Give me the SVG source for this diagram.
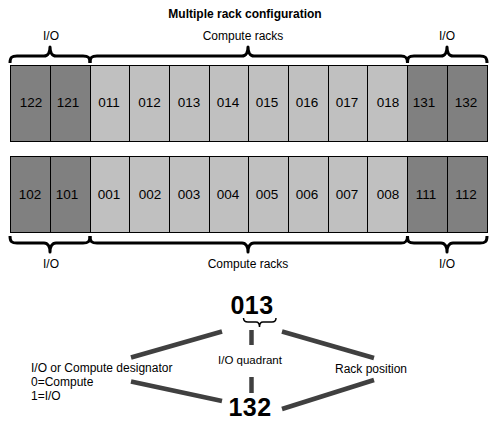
<svg xmlns="http://www.w3.org/2000/svg" width="498" height="429" viewBox="0 0 498 429">
<style>
text{font-family:"Liberation Sans",Arial,sans-serif;fill:#000}
.t{font-size:12px;text-anchor:middle}
.c{font-size:13.5px;text-anchor:middle}
.big{font-size:25px;font-weight:bold;text-anchor:middle;letter-spacing:0.5px}
.io rect{fill:#808080;stroke:#000;stroke-width:1}
.cp rect{fill:#c0c0c0;stroke:#000;stroke-width:1}
.brace{fill:none;stroke:#000;stroke-width:3;stroke-linejoin:round}
.lead{stroke:#404040;stroke-width:4.5;stroke-linecap:butt}
</style>
<rect width="498" height="429" fill="#fff"/>
<text x="245" y="18" font-size="12" font-weight="bold" text-anchor="middle">Multiple rack configuration</text>

<g id="top-labels">
<text class="t" x="51" y="40">I/O</text>
<text class="t" x="243" y="40">Compute racks</text>
<text class="t" x="447" y="40">I/O</text>
</g>
<g id="top-braces">
<path class="brace" d="M10,63 C10,57 12,56 17,56 L44,56 C48,56 50,52 50,47 C50,52 52,56 56,56 L83,56 C88,56 90,57 90,63"/>
<path class="brace" d="M90,63 C90,57 92,56 97,56 L242,56 C246,56 248,52 248,47 C248,52 250,56 254,56 L401,56 C405,56 407.5,57 407.5,63"/>
<path class="brace" d="M407.5,63 C407.5,57 409,56 414,56 L441,56 C445,56 447,52 447,47 C447,52 449,56 453,56 L480,56 C485,56 487,57 487,63"/>
</g>

<g id="rack-122" class="io"><rect x="10.5" y="65.5" width="40" height="76"/><text class="c" x="31" y="107">122</text></g>
<g id="rack-121" class="io"><rect x="50.5" y="65.5" width="40" height="76"/><text class="c" x="68" y="107">121</text></g>
<g id="rack-011" class="cp"><rect x="90.5" y="65.5" width="39" height="76"/><text class="c" x="109" y="107">011</text></g>
<g id="rack-012" class="cp"><rect x="129.5" y="65.5" width="40" height="76"/><text class="c" x="149.5" y="107">012</text></g>
<g id="rack-013" class="cp"><rect x="169.5" y="65.5" width="40" height="76"/><text class="c" x="189" y="107">013</text></g>
<g id="rack-014" class="cp"><rect x="209.5" y="65.5" width="39" height="76"/><text class="c" x="228" y="107">014</text></g>
<g id="rack-015" class="cp"><rect x="248.5" y="65.5" width="40" height="76"/><text class="c" x="267" y="107">015</text></g>
<g id="rack-016" class="cp"><rect x="288.5" y="65.5" width="40" height="76"/><text class="c" x="307" y="107">016</text></g>
<g id="rack-017" class="cp"><rect x="328.5" y="65.5" width="39" height="76"/><text class="c" x="347" y="107">017</text></g>
<g id="rack-018" class="cp"><rect x="367.5" y="65.5" width="40" height="76"/><text class="c" x="388" y="107">018</text></g>
<g id="rack-131" class="io"><rect x="407.5" y="65.5" width="40" height="76"/><text class="c" x="424" y="107">131</text></g>
<g id="rack-132" class="io"><rect x="447.5" y="65.5" width="40" height="76"/><text class="c" x="466" y="107">132</text></g>

<g id="rack-102" class="io"><rect x="10.5" y="156.5" width="40" height="76"/><text class="c" x="30" y="198.5">102</text></g>
<g id="rack-101" class="io"><rect x="50.5" y="156.5" width="40" height="76"/><text class="c" x="67" y="198.5">101</text></g>
<g id="rack-001" class="cp"><rect x="90.5" y="156.5" width="39" height="76"/><text class="c" x="109" y="198.5">001</text></g>
<g id="rack-002" class="cp"><rect x="129.5" y="156.5" width="40" height="76"/><text class="c" x="150" y="198.5">002</text></g>
<g id="rack-003" class="cp"><rect x="169.5" y="156.5" width="40" height="76"/><text class="c" x="189" y="198.5">003</text></g>
<g id="rack-004" class="cp"><rect x="209.5" y="156.5" width="39" height="76"/><text class="c" x="228" y="198.5">004</text></g>
<g id="rack-005" class="cp"><rect x="248.5" y="156.5" width="40" height="76"/><text class="c" x="267" y="198.5">005</text></g>
<g id="rack-006" class="cp"><rect x="288.5" y="156.5" width="40" height="76"/><text class="c" x="307" y="198.5">006</text></g>
<g id="rack-007" class="cp"><rect x="328.5" y="156.5" width="39" height="76"/><text class="c" x="347" y="198.5">007</text></g>
<g id="rack-008" class="cp"><rect x="367.5" y="156.5" width="40" height="76"/><text class="c" x="388" y="198.5">008</text></g>
<g id="rack-111" class="io"><rect x="407.5" y="156.5" width="40" height="76"/><text class="c" x="426" y="198.5">111</text></g>
<g id="rack-112" class="io"><rect x="447.5" y="156.5" width="40" height="76"/><text class="c" x="466" y="198.5">112</text></g>

<g id="bottom-braces">
<path class="brace" d="M10,236 C10,242 12,243 17,243 L44,243 C48,243 50,247 50,252 C50,247 52,243 56,243 L83,243 C88,243 90,242 90,236"/>
<path class="brace" d="M90,236 C90,242 92,243 97,243 L242,243 C246,243 248,247 248,252 C248,247 250,243 254,243 L401,243 C405,243 407.5,242 407.5,236"/>
<path class="brace" d="M407.5,236 C407.5,242 409,243 414,243 L441,243 C445,243 447,247 447,252 C447,247 449,243 453,243 L480,243 C485,243 487,242 487,236"/>
</g>
<g id="bottom-labels">
<text class="t" x="51" y="268">I/O</text>
<text class="t" x="248" y="268">Compute racks</text>
<text class="t" x="447" y="268">I/O</text>
</g>

<g id="example-013"><text class="big" x="252" y="314">013</text>
<path d="M243.5,318 C243.5,321 245,322 248,322 L256,322 C258,322 259.5,324 259.5,327 C259.5,324 261,322 263,322 L272,322 C275,322 276,321 276,318" fill="none" stroke="#000" stroke-width="1.5"/></g>
<g id="example-132"><text class="big" x="250" y="416">132</text></g>
<g id="label-quadrant"><text x="250" y="364" font-size="11.5" text-anchor="middle">I/O quadrant</text></g>
<g id="label-designator">
<text x="31" y="372" font-size="12">I/O or Compute designator</text>
<text x="31" y="386" font-size="12">0=Compute</text>
<text x="31" y="400" font-size="12">1=I/O</text>
</g>
<g id="label-position"><text x="335" y="373" font-size="12">Rack position</text></g>

<g id="connectors">
<line class="lead" x1="131" y1="357.5" x2="222" y2="331.5"/>
<line class="lead" x1="131" y1="381.5" x2="222" y2="401"/>
<line class="lead" x1="282" y1="331.5" x2="374" y2="358"/>
<line class="lead" x1="282" y1="409" x2="374" y2="380"/>
<line class="lead" x1="251.5" y1="330" x2="251.5" y2="345"/>
<line class="lead" x1="251.5" y1="377" x2="251.5" y2="393"/>
</g>
</svg>
